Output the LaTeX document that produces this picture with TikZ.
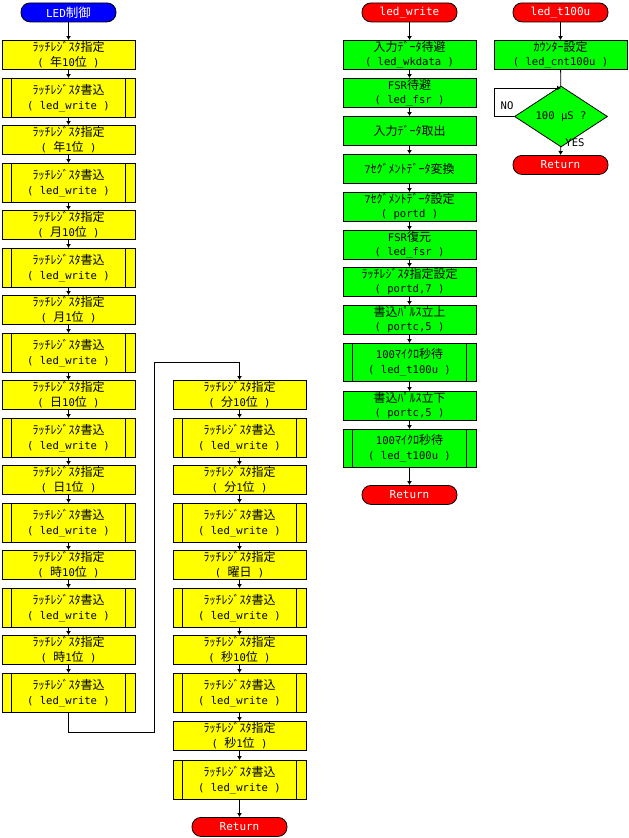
\documentclass[tikz,border=0pt]{standalone}
\usepackage{fontspec}
\setmainfont{Noto Sans CJK JP}
\newfontfamily\monof{DejaVu Sans Mono}[Scale=0.88]
\newcommand\asc[1]{{\monof #1}}
\usetikzlibrary{arrows.meta,shapes.geometric}
\definecolor{yel}{HTML}{FFFF00}
\definecolor{grn}{HTML}{00FF00}
\definecolor{rd}{HTML}{FF0000}
\definecolor{bl}{HTML}{0000FF}
\newcommand\lrname{ﾗｯﾁﾚｼﾞｽﾀ}
\newcommand\ledwr{\asc{( led\_write )}}
\tikzset{
  base/.style={draw, line width=0.8pt, inner sep=0pt, align=center, anchor=north,
    minimum width=133pt, minimum height=28.5pt, font=\fontsize{12}{14.5}\selectfont},
  bars/.style={path picture={\draw[line width=0.8pt]
      ([xshift=9.5pt]path picture bounding box.north west) -- ([xshift=9.5pt]path picture bounding box.south west)
      ([xshift=-9.5pt]path picture bounding box.north east) -- ([xshift=-9.5pt]path picture bounding box.south east);}},
  proc/.style={base, fill=yel},
  sub/.style={base, fill=yel, minimum height=39pt, bars},
  gproc/.style={base, fill=grn},
  gsub/.style={base, fill=grn, minimum height=38pt, bars},
  term/.style={draw, line width=0.8pt, rounded corners=9pt, minimum width=95pt, minimum height=19pt,
    inner sep=0pt, anchor=north, text=white, font=\fontsize{12.5}{14}\selectfont},
  dec/.style={draw, line width=0.8pt, diamond, fill=grn, minimum width=93pt, minimum height=37pt,
    inner sep=0pt, font=\fontsize{12}{14}\selectfont},
  lbl/.style={font=\fontsize{12}{14}\selectfont, inner sep=0pt},
  arr/.style={-{Latex[length=4pt,width=5pt]}, line width=0.8pt},
  ln/.style={line width=0.8pt}
}
\begin{document}
\begin{tikzpicture}[x=1pt,y=-1pt]
\useasboundingbox (0,0) rectangle (629,838);
% ---------- LED制御 ----------
\node[term, fill=bl] (S) at (68.5,2.5) {\asc{LED}制御};
\node[proc] (L1) at (68.5,40) {\lrname 指定\\\asc{( }年\asc{10}位\asc{ )}};
\node[sub] (L2) at (68.5,78) {\lrname 書込\\\ledwr};
\node[proc] (L3) at (68.5,125) {\lrname 指定\\\asc{( }年\asc{1}位\asc{ )}};
\node[sub] (L4) at (68.5,163) {\lrname 書込\\\ledwr};
\node[proc] (L5) at (68.5,210) {\lrname 指定\\\asc{( }月\asc{10}位\asc{ )}};
\node[sub] (L6) at (68.5,248) {\lrname 書込\\\ledwr};
\node[proc] (L7) at (68.5,295) {\lrname 指定\\\asc{( }月\asc{1}位\asc{ )}};
\node[sub] (L8) at (68.5,333) {\lrname 書込\\\ledwr};
\node[proc] (L9) at (68.5,380) {\lrname 指定\\\asc{( }日\asc{10}位\asc{ )}};
\node[sub] (L10) at (68.5,418) {\lrname 書込\\\ledwr};
\node[proc] (L11) at (68.5,465) {\lrname 指定\\\asc{( }日\asc{1}位\asc{ )}};
\node[sub] (L12) at (68.5,503) {\lrname 書込\\\ledwr};
\node[proc] (L13) at (68.5,550) {\lrname 指定\\\asc{( }時\asc{10}位\asc{ )}};
\node[sub] (L14) at (68.5,588) {\lrname 書込\\\ledwr};
\node[proc] (L15) at (68.5,635) {\lrname 指定\\\asc{( }時\asc{1}位\asc{ )}};
\node[sub] (L16) at (68.5,673) {\lrname 書込\\\ledwr};
\node[proc] (R1) at (239.5,380) {\lrname 指定\\\asc{( }分\asc{10}位\asc{ )}};
\node[sub] (R2) at (239.5,418) {\lrname 書込\\\ledwr};
\node[proc] (R3) at (239.5,465) {\lrname 指定\\\asc{( }分\asc{1}位\asc{ )}};
\node[sub] (R4) at (239.5,503) {\lrname 書込\\\ledwr};
\node[proc] (R5) at (239.5,550) {\lrname 指定\\\asc{( }曜日\asc{ )}};
\node[sub] (R6) at (239.5,588) {\lrname 書込\\\ledwr};
\node[proc] (R7) at (239.5,635) {\lrname 指定\\\asc{( }秒\asc{10}位\asc{ )}};
\node[sub] (R8) at (239.5,673) {\lrname 書込\\\ledwr};
\node[proc] (R9) at (239.5,721) {\lrname 指定\\\asc{( }秒\asc{1}位\asc{ )}};
\node[sub] (R10) at (239.5,760) {\lrname 書込\\\ledwr};
\node[term, fill=rd] (RE) at (239.5,817) {\asc{Return}};
\draw[arr] (S) -- (L1);
\foreach \a/\b in {L1/L2,L2/L3,L3/L4,L4/L5,L5/L6,L6/L7,L7/L8,L8/L9,L9/L10,L10/L11,L11/L12,L12/L13,L13/L14,L14/L15,L15/L16,
  R1/R2,R2/R3,R3/R4,R4/R5,R5/R6,R6/R7,R7/R8,R8/R9,R9/R10,R10/RE}
  \draw[arr] (\a) -- (\b);
\coordinate (c1) at (154,732);
\coordinate (c2) at (154,362);
\draw[arr] (L16.south) |- (c1) -- (c2) -| (R1.north);
% ---------- led_write ----------
\node[term, fill=rd] (W0) at (409.5,2.5) {\asc{led\_write}};
\node[gproc] (W1) at (409.5,40) {入力ﾃﾞｰﾀ待避\\\asc{( led\_wkdata )}};
\node[gproc] (W2) at (409.5,78) {\asc{FSR}待避\\\asc{( led\_fsr )}};
\node[gproc] (W3) at (409.5,116) {入力ﾃﾞｰﾀ取出};
\node[gproc] (W4) at (409.5,154) {\asc{7}ｾｸﾞﾒﾝﾄﾃﾞｰﾀ変換};
\node[gproc] (W5) at (409.5,192) {\asc{7}ｾｸﾞﾒﾝﾄﾃﾞｰﾀ設定\\\asc{( portd )}};
\node[gproc] (W6) at (409.5,230) {\asc{FSR}復元\\\asc{( led\_fsr )}};
\node[gproc] (W7) at (409.5,267) {\lrname 指定設定\\\asc{( portd,7 )}};
\node[gproc] (W8) at (409.5,305) {書込ﾊﾟﾙｽ立上\\\asc{( portc,5 )}};
\node[gsub] (W9) at (409.5,343) {\asc{100}ﾏｲｸﾛ秒待\\\asc{( led\_t100u )}};
\node[gproc] (W10) at (409.5,391) {書込ﾊﾟﾙｽ立下\\\asc{( portc,5 )}};
\node[gsub] (W11) at (409.5,429) {\asc{100}ﾏｲｸﾛ秒待\\\asc{( led\_t100u )}};
\node[term, fill=rd] (WR) at (409.5,485) {\asc{Return}};
\foreach \a/\b in {W0/W1,W1/W2,W2/W3,W3/W4,W4/W5,W5/W6,W6/W7,W7/W8,W8/W9,W9/W10,W10/W11,W11/WR}
  \draw[arr] (\a) -- (\b);
% ---------- led_t100u ----------
\node[term, fill=rd] (T0) at (560.5,2.5) {\asc{led\_t100u}};
\node[gproc] (T1) at (560.5,40) {ｶｳﾝﾀｰ設定\\\asc{( led\_cnt100u )}};
\node[dec] (D) at (561,116.5) {\asc{100 μS ?}};
\node[term, fill=rd] (TR) at (560.5,155) {\asc{Return}};
\draw[arr] (T0) -- (T1);
\draw[ln] (T1) -- (D);
\coordinate (jn) at (561,88);
\coordinate (lp) at (494,88);
\draw[arr] (D.west) -| (lp) -- (jn);
\draw[arr] (D) -- (TR);
\node[lbl] (NO) at (507,106) {\asc{NO}};
\node[lbl] (YES) at (575,143) {\asc{YES}};
\end{tikzpicture}
\end{document}
